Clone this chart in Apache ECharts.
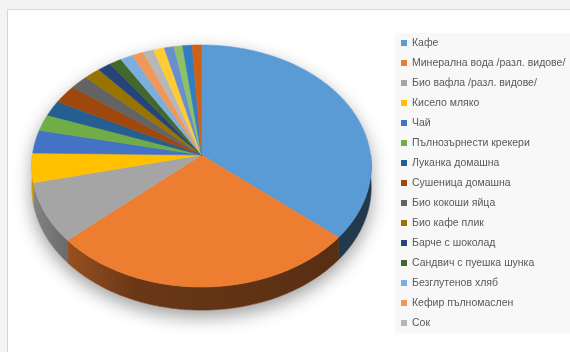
<!DOCTYPE html>
<html>
<head>
<meta charset="utf-8">
<script src="https://cdn.jsdelivr.net/npm/echarts@6/dist/echarts.min.js"></script>
<style>
html,body{margin:0;padding:0;background:#f4f4f4;width:570px;height:352px;overflow:hidden;}
#frame{position:absolute;left:7px;top:9px;width:600px;height:400px;background:#fff;border:1px solid #d6d6d6;}
#chart{position:absolute;left:0;top:0;width:570px;height:352px;}
</style>
</head>
<body>
<div id="frame"></div>
<div id="chart"></div>
<script>
// ---- data ----
const categories = [
  'Кафе', 'Минерална вода /разл. видове/', 'Био вафла /разл. видове/', 'Кисело мляко', 'Чай',
  'Пълнозърнести крекери', 'Луканка домашна', 'Сушеница домашна', 'Био кокоши яйца', 'Био кафе плик',
  'Барче с шоколад', 'Сандвич с пуешка шунка', 'Безглутенов хляб', 'Кефир пълномаслен', 'Сок',
  'Продукт 16', 'Продукт 17', 'Продукт 18', 'Продукт 19', 'Продукт 20'
];
const values = [36.2, 27.2, 8.0, 3.9, 3.1, 2.2, 2.1, 2.5, 1.9, 1.7, 1.4, 1.25, 1.3, 1.2, 1.1, 1.15, 1.0, 0.9, 1.0, 0.95];
const legendNames = categories.slice(0, 15);
const palette = ['#5B9BD5','#ED7D31','#A5A5A5','#FFC000','#4472C4','#70AD47','#255E91','#9E480E','#636363','#997300',
                 '#264478','#43682B','#7CAFDD','#F1975A','#B7B7B7','#FFCD33','#698ED0','#8CC168','#327DC2','#D26012'];

// ---- 3D pie geometry ----
const G = {cx: 201.5, cy: 155, a: 120, b: 169, k: 0.0909, depth: 21};
const total = values.reduce((s, v) => s + v, 0);
function proj(theta, h) {
  const u = Math.sin(theta), v = -Math.cos(theta);
  const s = 1 / (1 - G.k * v);
  return [G.cx + G.b * u * s, G.cy + G.a * v * s + h * s];
}
function arcPts(t0, t1, h) {
  const n = Math.max(2, Math.ceil(Math.abs(t1 - t0) / (Math.PI / 180)));
  const pts = [];
  for (let i = 0; i <= n; i++) pts.push(proj(t0 + (t1 - t0) * i / n, h));
  return pts;
}
function shade(hex, f) {
  const n = parseInt(hex.slice(1), 16);
  const r = Math.round(((n >> 16) & 255) * f), g = Math.round(((n >> 8) & 255) * f), b = Math.round((n & 255) * f);
  return 'rgb(' + r + ',' + g + ',' + b + ')';
}
function wallFill(color) {
  const x0 = G.cx - G.b, x1 = G.cx + G.b;
  return new echarts.graphic.LinearGradient(x0, 0, x1, 0, [
    {offset: 0, color: shade(color, 0.8)},
    {offset: 0.12, color: shade(color, 0.62)},
    {offset: 0.3, color: shade(color, 0.45)},
    {offset: 0.5, color: shade(color, 0.42)},
    {offset: 1, color: shade(color, 0.36)}
  ], true);
}

function makeRender(idx) {
  return function (params, api) {
    const color = palette[idx];
    let before = 0;
    for (let i = 0; i < idx; i++) before += values[i];
    const t0 = before / total * Math.PI * 2;
    const t1 = (before + api.value(0)) / total * Math.PI * 2;
    const children = [];
    if (idx === 0) {
      // soft shadow under whole pie
      const sil = arcPts(-Math.PI / 2, Math.PI / 2, 0).concat(arcPts(Math.PI / 2, 3 * Math.PI / 2, G.depth)).concat(arcPts(3 * Math.PI / 2, 3 * Math.PI / 2, 0));
      children.push({type: 'polygon', shape: {points: sil}, silent: true,
        style: {fill: '#ffffff', shadowBlur: 18, shadowColor: 'rgba(0,0,0,0.38)', shadowOffsetY: 7}});
    }
    // side wall (front half)
    const w0 = Math.max(t0, Math.PI / 2), w1 = Math.min(t1, 3 * Math.PI / 2);
    if (w1 > w0) {
      const top = arcPts(w0, w1, 0), bot = arcPts(w1, w0, G.depth);
      const fill = wallFill(color);
      children.push({type: 'polygon', shape: {points: top.concat(bot)}, silent: true,
        style: {fill: fill, stroke: fill, lineWidth: 0.6}});
    }
    // top face
    const face = [[G.cx, G.cy]].concat(arcPts(t0, t1, 0));
    children.push({type: 'polygon', shape: {points: face},
      style: {fill: color, stroke: color, lineWidth: 0.6}});
    return {type: 'group', children: children};
  };
}

const series = categories.map((name, i) => ({
  type: 'custom',
  name: name,
  coordinateSystem: 'none',
  itemStyle: {color: palette[i]},
  emphasis: {disabled: true},
  renderItem: makeRender(i),
  data: [[values[i]]]
}));

const chart = echarts.init(document.getElementById('chart'), null, {renderer: 'canvas'});
chart.setOption({
  animation: false,
  backgroundColor: 'transparent',
  color: palette,
  legend: {
    data: legendNames,
    orient: 'vertical',
    left: 395,
    top: 33,
    padding: [3, 10, 3, 6],
    backgroundColor: '#f8f8f8',
    itemWidth: 6,
    itemHeight: 6,
    itemGap: 6,
    itemTextGap: 4,
    icon: 'rect',
    selectedMode: false,
    textStyle: {fontFamily: 'Liberation Sans', fontSize: 10.5, color: '#595959', lineHeight: 14}
  },
  series: series
});
</script>
</body>
</html>
